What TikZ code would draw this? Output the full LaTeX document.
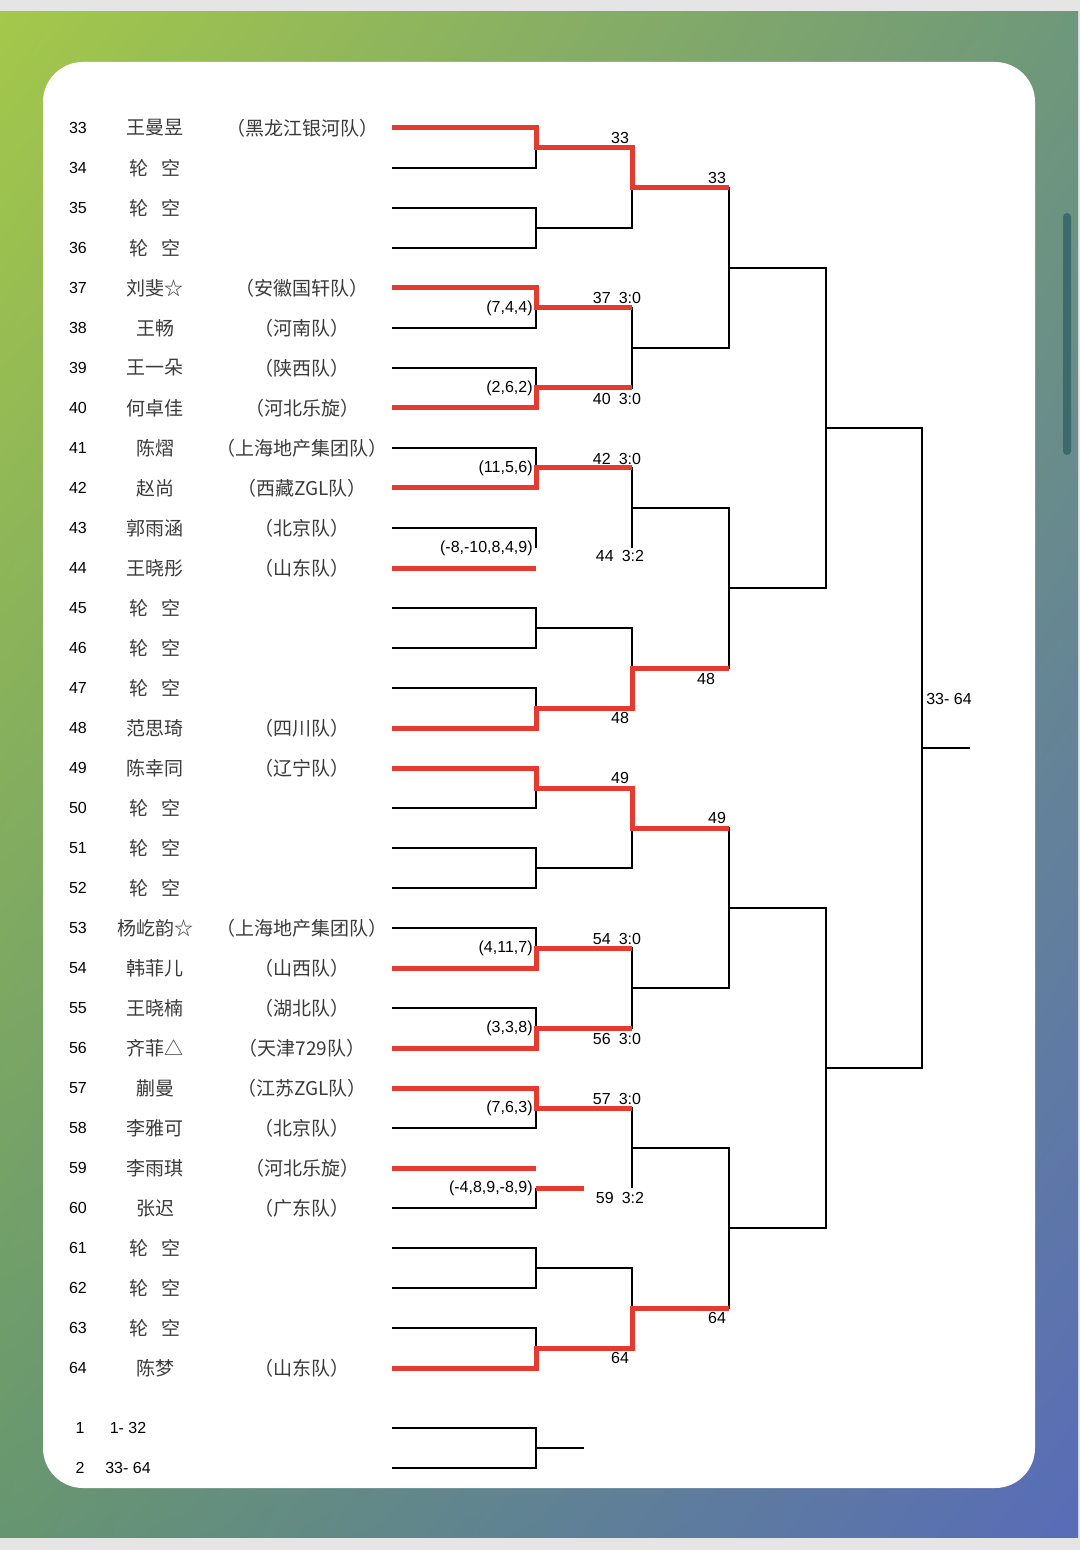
\documentclass[tikz,border=0pt]{standalone}
\usepackage{fontspec}
\setmainfont{Liberation Sans}
\newfontfamily\cjk{Noto Sans CJK SC}
\usetikzlibrary{positioning,calc,shadings}
\definecolor{winred}{HTML}{E53A2F}
\definecolor{ink}{HTML}{3A3A3A}
\definecolor{bggray}{HTML}{E4E5E4}
\definecolor{scrollbar}{HTML}{3F6A6C}
\definecolor{bgul}{RGB}{164,200,74}
\definecolor{bgur}{RGB}{110,152,122}
\definecolor{bgll}{RGB}{102,150,112}
\definecolor{bglr}{RGB}{88,108,184}
\newcommand{\bye}{轮\hspace{0.7em}空}

\begin{document}
\begin{tikzpicture}[x=0.5pt,y=-0.5pt,
  seed/.style={font=\fontsize{8}{9}\selectfont,inner sep=0pt},
  player/.style={font=\cjk\fontsize{9.5}{11}\selectfont,text=ink,inner sep=0pt},
  score/.style={font=\fontsize{8}{9}\selectfont,inner sep=0pt},
  res/.style={font=\fontsize{8}{9}\selectfont,inner sep=0pt},
  line/.style={line width=1pt},
  win/.style={draw=winred,line width=2.5pt}]
\useasboundingbox (0,0) rectangle (1080,1550);
\fill[bggray] (0,0) rectangle (1080,1550);
\shade[upper left=bgul,upper right=bgur,lower left=bgll,lower right=bglr] (0,12) rectangle (1078,1537);
\fill[white,rounded corners=20pt] (43,62) rectangle (1035,1488);
\fill[scrollbar,rounded corners=2pt] (1063,213) rectangle (1071,455);

\coordinate (ncol) at (155,0);
\coordinate (tcol) at (302,0);
\coordinate (lcol) at (392,0);

\foreach \k/\nm in {33/王曼昱,34/\bye,35/\bye,36/\bye,37/刘斐☆,38/王畅,39/王一朵,40/何卓佳,
  41/陈熠,42/赵尚,43/郭雨涵,44/王晓彤,45/\bye,46/\bye,47/\bye,48/范思琦,
  49/陈幸同,50/\bye,51/\bye,52/\bye,53/杨屹韵☆,54/韩菲儿,55/王晓楠,56/齐菲△,
  57/蒯曼,58/李雅可,59/李雨琪,60/张迟,61/\bye,62/\bye,63/\bye,64/陈梦}
{
  \node[seed] (n\k) at (78,{128+40*(\k-33)}) {\k};
  \node[player] (nm\k) at (n\k -| ncol) {\nm};
  \coordinate (p\k) at (n\k -| lcol);
}
\foreach \k/\tm in {33/（黑龙江银河队）,37/（安徽国轩队）,38/（河南队）,39/（陕西队）,40/（河北乐旋）,
  41/（上海地产集团队）,42/（西藏ZGL队）,43/（北京队）,44/（山东队）,48/（四川队）,
  49/（辽宁队）,53/（上海地产集团队）,54/（山西队）,55/（湖北队）,56/（天津729队）,
  57/（江苏ZGL队）,58/（北京队）,59/（河北乐旋）,60/（广东队）,64/（山东队）}
  \node[player] (t\k) at (n\k -| tcol) {\tm};

\foreach \j in {1,...,16} \coordinate (J1-\j) at (536,{68+80*\j});
\foreach \j in {1,...,8} \coordinate (J2-\j) at (632,{28+160*\j});
\foreach \j in {1,...,4} \coordinate (J3-\j) at (729,{-52+320*\j});
\foreach \j in {1,2} \coordinate (J4-\j) at (826,{-212+640*\j});
\coordinate (J5) at (922,748);
\coordinate (fin) at (970,748);
\coordinate (s59) at (584,1188);

\foreach \j in {1,2,3,4,5,7,8,9,10,11,12,13,15,16} {
  \pgfmathtruncatemacro\ka{31+2*\j}
  \pgfmathtruncatemacro\kb{32+2*\j}
  \draw[line] (p\ka) -| (J1-\j) |- (p\kb);
}
\draw[line] (p43) -| (J1-6);
\draw[line] (p60) -| (J1-14);
\foreach \j in {1,2,4,5,6,8} {
  \pgfmathtruncatemacro\ka{2*\j-1}
  \pgfmathtruncatemacro\kb{2*\j}
  \draw[line] (J1-\ka) -| (J2-\j) |- (J1-\kb);
}
\draw[line] (J1-5) -| (J2-3) -- (J2-3 |- J1-6);
\draw[line] (J1-13) -| (J2-7) -- (J2-7 |- J1-14);
\foreach \j in {1,...,4} {
  \pgfmathtruncatemacro\ka{2*\j-1}
  \pgfmathtruncatemacro\kb{2*\j}
  \draw[line] (J2-\ka) -| (J3-\j) |- (J2-\kb);
}
\foreach \j in {1,2} {
  \pgfmathtruncatemacro\ka{2*\j-1}
  \pgfmathtruncatemacro\kb{2*\j}
  \draw[line] (J3-\ka) -| (J4-\j) |- (J3-\kb);
}
\draw[line] (J4-1) -| (J5) |- (J4-2);
\draw[line] (J5) -- (fin);

\draw[win] (p33) -| (J1-1) -| (J2-1) -- (J2-1 -| J3-1);
\draw[win] (p37) -| (J1-3) -- (J1-3 -| J2-2);
\draw[win] (p40) -| (J1-4) -- (J1-4 -| J2-2);
\draw[win] (p42) -| (J1-5) -- (J1-5 -| J2-3);
\draw[win] (p44) -- (p44 -| J1-6);
\draw[win] (p48) -| (J1-8) -| (J2-4) -- (J2-4 -| J3-2);
\draw[win] (p49) -| (J1-9) -| (J2-5) -- (J2-5 -| J3-3);
\draw[win] (p54) -| (J1-11) -- (J1-11 -| J2-6);
\draw[win] (p56) -| (J1-12) -- (J1-12 -| J2-6);
\draw[win] (p57) -| (J1-13) -- (J1-13 -| J2-7);
\draw[win] (p59) -- (p59 -| J1-14);
\draw[win] (J1-14) -- (s59);
\draw[win] (p64) -| (J1-16) -| (J2-8) -- (J2-8 -| J3-4);

\node[score,left=1.5pt of J1-3] (g37) {(7,4,4)};
\node[score,left=1.5pt of J1-4] (g40) {(2,6,2)};
\node[score,left=1.5pt of J1-5] (g42) {(11,5,6)};
\node[score,left=1.5pt of J1-6] (g44) {(-8,-10,8,4,9)};
\node[score,left=1.5pt of J1-11] (g54) {(4,11,7)};
\node[score,left=1.5pt of J1-12] (g56) {(3,3,8)};
\node[score,left=1.5pt of J1-13] (g57) {(7,6,3)};
\node[score,left=1.5pt of J1-14] (g59) {(-4,8,9,-8,9)};

\node[res] (w33a) at (620,138) {33};
\node[res] (w33b) at (717,178) {33};
\node[res] (w37) at (617,298) {37\enspace 3:0};
\node[res] (w40) at (617,399) {40\enspace 3:0};
\node[res] (w42) at (617,459) {42\enspace 3:0};
\node[res] (w44) at (620,556) {44\enspace 3:2};
\node[res] (w48a) at (620,718) {48};
\node[res] (w48b) at (706,679) {48};
\node[res] (w49a) at (620,778) {49};
\node[res] (w49b) at (717,818) {49};
\node[res] (w54) at (617,939) {54\enspace 3:0};
\node[res] (w56) at (617,1039) {56\enspace 3:0};
\node[res] (w57) at (617,1099) {57\enspace 3:0};
\node[res] (w59) at (620,1198) {59\enspace 3:2};
\node[res] (w64a) at (620,1358) {64};
\node[res] (w64b) at (717,1318) {64};
\node[res] (half) at (949,699) {33- 64};

\node[seed] (n1) at (80,1428) {1};
\node[seed] (h1) at (128,1428) {1- 32};
\node[seed] (n2) at (80,1468) {2};
\node[seed] (h2) at (128,1468) {33- 64};
\coordinate (b1) at (n1 -| lcol);
\coordinate (b2) at (n2 -| lcol);
\coordinate (J0) at (536,1448);
\coordinate (b0) at (584,1448);
\draw[line] (b1) -| (J0) |- (b2);
\draw[line] (J0) -- (b0);
\end{tikzpicture}
\end{document}
